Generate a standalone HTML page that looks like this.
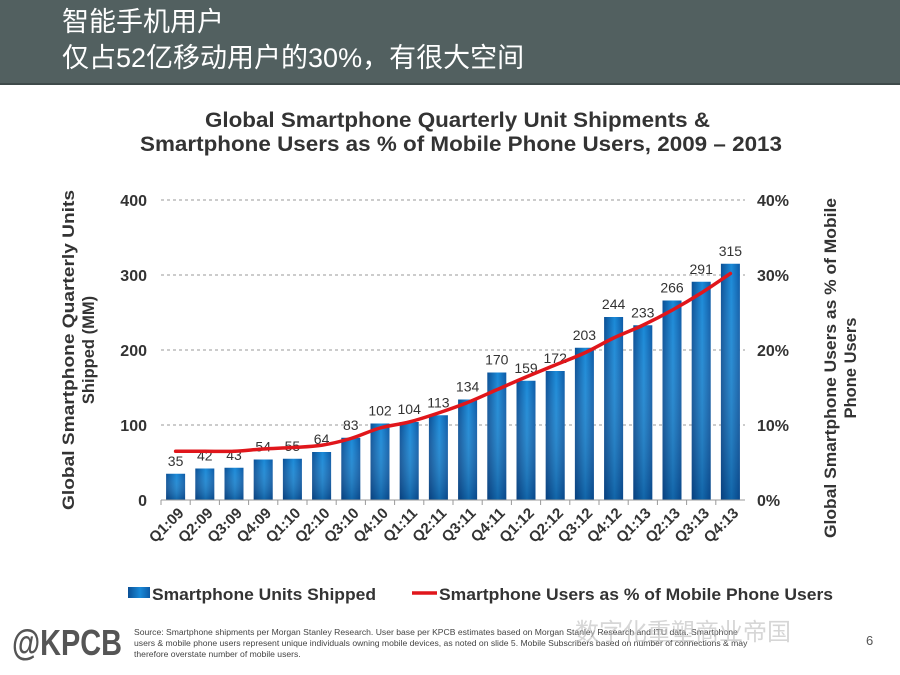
<!DOCTYPE html>
<html><head><meta charset="utf-8"><style>
body{margin:0;width:900px;height:675px;overflow:hidden;background:#fff;font-family:"Liberation Sans","Noto Sans CJK SC",sans-serif;}
#hdr{position:absolute;left:0;top:0;width:900px;height:83px;background:#526060;border-bottom:2px solid #3e4a4a;}
#hdr div{position:absolute;left:62px;color:#fff;font-size:27px;line-height:32px;font-family:"Liberation Sans","Noto Sans CJK SC",sans-serif;}
</style></head><body>
<div id="hdr">
<div style="top:6px">智能手机用户</div>
<div style="top:42px">仅占52亿移动用户的30%，有很大空间</div>
</div>
<svg width="900" height="675" style="position:absolute;left:0;top:0" font-family="Liberation Sans, Arial, sans-serif">
<defs>
<linearGradient id="bg" x1="0" x2="1" y1="0" y2="0">
<stop offset="0" stop-color="#0a4f95"/><stop offset="0.55" stop-color="#1a8ad8"/><stop offset="1" stop-color="#0c5aa6"/>
</linearGradient>
<linearGradient id="bgv" x1="0" x2="0" y1="0" y2="1">
<stop offset="0" stop-color="#ffffff" stop-opacity="0"/><stop offset="1" stop-color="#002050" stop-opacity="0.35"/>
</linearGradient>
</defs>
<text x="205" y="127" font-size="21" font-weight="bold" fill="#333" textLength="505" lengthAdjust="spacingAndGlyphs">Global Smartphone Quarterly Unit Shipments &amp;</text>
<text x="140" y="151" font-size="21" font-weight="bold" fill="#333" textLength="642" lengthAdjust="spacingAndGlyphs">Smartphone Users as % of Mobile Phone Users, 2009 – 2013</text>
<g id="grid"></g><g id="bars"></g><g id="axes"></g><g id="line"></g>
<text transform="translate(74,350) rotate(-90)" font-size="16.5" font-weight="bold" fill="#333"><tspan x="-160" y="0" textLength="320" lengthAdjust="spacingAndGlyphs">Global Smartphone Quarterly Units</tspan><tspan x="0" y="20" text-anchor="middle">Shipped (MM)</tspan></text>
<text transform="translate(836,368) rotate(-90)" font-size="16.5" font-weight="bold" fill="#333"><tspan x="-170" y="0" textLength="340" lengthAdjust="spacingAndGlyphs">Global Smartphone Users as % of Mobile</tspan><tspan x="0" y="20" text-anchor="middle">Phone Users</tspan></text>
<rect x="128" y="587" width="22" height="11" fill="url(#bg)"/>
<text x="152" y="600" font-size="17" font-weight="bold" fill="#333" textLength="224" lengthAdjust="spacingAndGlyphs">Smartphone Units Shipped</text>
<line x1="412" y1="593" x2="437" y2="593" stroke="#e0161b" stroke-width="3.5"/>
<text x="439" y="600" font-size="17" font-weight="bold" fill="#333" textLength="394" lengthAdjust="spacingAndGlyphs">Smartphone Users as % of Mobile Phone Users</text>
<text x="12" y="655" font-size="36" font-weight="bold" fill="#555" textLength="110" lengthAdjust="spacingAndGlyphs">@KPCB</text>
<text font-size="8.6" fill="#444"><tspan x="134" y="635">Source: Smartphone shipments per Morgan Stanley Research. User base per KPCB estimates based on Morgan Stanley Research and ITU data. Smartphone</tspan><tspan x="134" y="646">users &amp; mobile phone users represent unique individuals owning mobile devices, as noted on slide 5. Mobile Subscribers based on number of connections &amp; may</tspan><tspan x="134" y="657">therefore overstate number of mobile users.</tspan></text>
<text x="575" y="640" font-size="24" fill="#bbb" opacity="0.6" font-family="Liberation Sans, Noto Sans CJK SC, sans-serif">数字化重塑商业帝国</text>
<text x="866" y="645" font-size="13" fill="#555">6</text>
</svg>
<script>
const categories=["Q1:09","Q2:09","Q3:09","Q4:09","Q1:10","Q2:10","Q3:10","Q4:10","Q1:11","Q2:11","Q3:11","Q4:11","Q1:12","Q2:12","Q3:12","Q4:12","Q1:13","Q2:13","Q3:13","Q4:13"];
const units=[35,42,43,54,55,64,83,102,104,113,134,170,159,172,203,244,233,266,291,315];
const userPct=[6.5,6.5,6.5,6.8,7.0,7.3,8.2,9.6,10.4,11.6,13.0,14.7,16.4,18.0,19.6,21.6,23.3,25.3,27.6,30.2];
const leftTicks=[0,100,200,300,400];
const rightTicks=["0%","10%","20%","30%","40%"];
const NS="http://www.w3.org/2000/svg";
const X0=161,X1=745,Y0=500,Y1=200;
const band=(X1-X0)/categories.length;
const xc=i=>X0+band*(i+0.5);
const yL=v=>Y0-(v/400)*(Y0-Y1);
const yR=p=>Y0-(p/40)*(Y0-Y1);
function mk(tag,attrs,parent){const e=document.createElementNS(NS,tag);for(const k in attrs)e.setAttribute(k,attrs[k]);parent.appendChild(e);return e;}
const grid=document.getElementById('grid'),bars=document.getElementById('bars'),axes=document.getElementById('axes'),lineG=document.getElementById('line');
leftTicks.forEach((t,i)=>{
  if(t>0){const g=mk('line',{x1:X0,x2:X1,y1:yL(t),y2:yL(t),stroke:'#999','stroke-dasharray':'3,3','stroke-width':1},grid);
  
  }
  const l=mk('text',{x:147,y:yL(t)+6,'text-anchor':'end','font-size':16,'font-weight':'bold',fill:'#333'},axes);l.textContent=t;
  
  
  const r=mk('text',{x:757,y:yL(t)+6,'font-size':16,'font-weight':'bold',fill:'#333'},axes);r.textContent=rightTicks[i];
  
  
});
const ax=mk('line',{x1:X0,x2:X1,y1:Y0,y2:Y0,stroke:'#999','stroke-width':1},axes);


categories.forEach((c,i)=>{
  const bw=19,h=Y0-yL(units[i]);
  const b=mk('rect',{x:xc(i)-bw/2,y:yL(units[i]),width:bw,height:h,fill:'url(#bg)'},bars);
  
  
  mk('rect',{x:xc(i)-bw/2,y:yL(units[i]),width:bw,height:h,fill:'url(#bgv)'},bars);
  const v=mk('text',{x:xc(i),y:yL(units[i])-8,'text-anchor':'middle','font-size':14,fill:'#333'},bars);v.textContent=units[i];
  
  
  const tk=mk('line',{x1:X0+band*i,x2:X0+band*i,y1:Y0,y2:Y0+5,stroke:'#999'},axes);
  
  
  const t=mk('text',{'text-anchor':'end','font-size':15,'font-weight':'bold',fill:'#333',transform:`translate(${xc(i)+9},${Y0+14}) rotate(-45)`},axes);t.textContent=c;
  
  
});
const pts=userPct.map((p,i)=>[xc(i),yR(p)]);
let d='M'+pts[0][0]+','+pts[0][1];
for(let i=1;i<pts.length;i++){const p0=pts[Math.max(i-2,0)],p1=pts[i-1],p2=pts[i],p3=pts[Math.min(i+1,pts.length-1)];
d+=` C${p1[0]+(p2[0]-p0[0])/6},${p1[1]+(p2[1]-p0[1])/6} ${p2[0]-(p3[0]-p1[0])/6},${p2[1]-(p3[1]-p1[1])/6} ${p2[0]},${p2[1]}`;}
const ln=mk('path',{d:d,fill:'none',stroke:'#e0161b','stroke-width':3.5,'stroke-linecap':'round'},lineG);


</script>
</body></html>
